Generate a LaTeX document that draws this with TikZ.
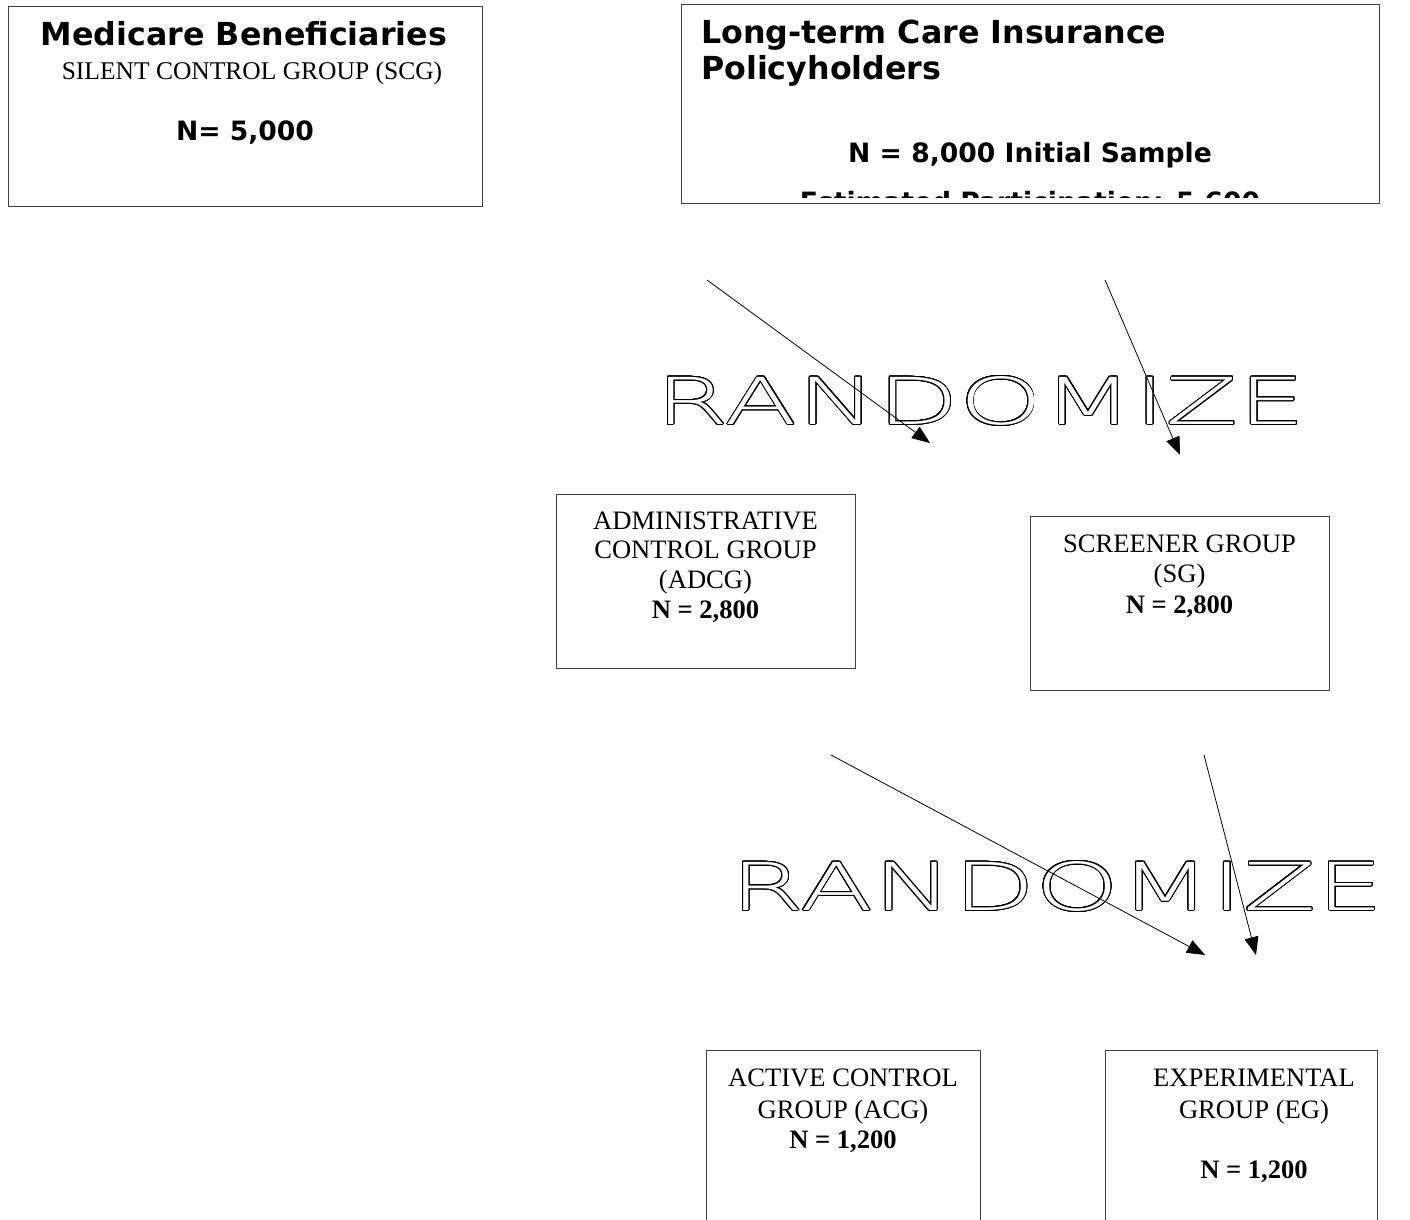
\documentclass[tikz,border=0pt]{standalone}
\usepackage{fontspec}
\setmainfont{Liberation Serif}
\newfontfamily\djv{DejaVu Sans}
\IfFontExistsTF{DejaVu Sans ExtraLight}
  {\newfontfamily\rndf{DejaVu Sans ExtraLight}}
  {\IfFontExistsTF{Fira Sans Light}
    {\newfontfamily\rndf{Fira Sans Light}}
    {\newfontfamily\rndf{DejaVu Sans}}}
\usepackage[copies]{contour}
\contourlength{0.9pt}
\contournumber{32}
\usetikzlibrary{arrows.meta}
\begin{document}
\begin{tikzpicture}[x=1pt,y=-1pt,
  box/.style={draw=black!75, line width=1pt, inner sep=0pt},
  ser/.style={font=\fontsize{26.6}{30}\selectfont, anchor=base, inner sep=0pt},
  serb/.style={font=\fontsize{26.6}{30}\selectfont\bfseries, anchor=base, inner sep=0pt},
  san/.style={font=\djv\fontsize{26.6}{32}\selectfont\bfseries, anchor=base, inner sep=0pt},
  sanbig/.style={font=\djv\fontsize{31.7}{36}\selectfont\bfseries, anchor=base, inner sep=0pt},
  arr/.style={line width=0.8pt, -{Triangle[length=18pt,width=14pt]}},
  rnd/.style={inner sep=0pt, anchor=north west}]
\fill[white] (0,0) rectangle (1410,1220);
\useasboundingbox (0,0) rectangle (1410,1220);
\clip (0,0) rectangle (1410,1220);

% Medicare box
\node[box, minimum width=474pt, minimum height=199pt] (scg) at (245,106.5) {};
\node[sanbig] (scg1) at (244,46) {Medicare Beneficiaries};
\node[ser, font=\fontsize{25.5}{30}\selectfont] (scg2) at (252,80) {SILENT CONTROL GROUP (SCG)};
\node[san] (scg3) at (245,140) {N= 5,000};

% LTC box
\node[box, minimum width=698pt, minimum height=198pt] (ltc) at (1030,104) {};
\begin{scope}
\clip (682,6) rectangle (1378,197);
\node[sanbig, anchor=base west] (ltc1) at (701,44) {Long-term Care Insurance};
\node[sanbig, anchor=base west] (ltc2) at (701,80) {Policyholders};
\node[san] (ltc3) at (1030,162) {N = 8,000 Initial Sample};
\node[san] (ltc4) at (1030,211) {Estimated Participation: 5,600};
\end{scope}

% Randomize 1
\node[rnd] (rnd1) at (655,376) {\color{white}\contour{black}{\resizebox{650pt}{48pt}{\rndf RANDOMIZE}}};
\coordinate (a1s) at (707,280);
\coordinate (a1e) at (930,443);
\coordinate (a2s) at (1105,280);
\coordinate (a2e) at (1180,455);
\draw[arr] (a1s) -- (a1e);
\draw[arr] (a2s) -- (a2e);

% ADCG
\node[box, minimum width=299pt, minimum height=174pt] (adcg) at (705.5,581) {};
\node[ser] (adcg1) at (705.5,529) {ADMINISTRATIVE};
\node[ser] (adcg2) at (705.5,558) {CONTROL GROUP};
\node[ser] (adcg3) at (705.5,588) {(ADCG)};
\node[serb] (adcg4) at (705.5,618) {N = 2,800};

% SG
\node[box, minimum width=299pt, minimum height=174pt] (sg) at (1179.5,603) {};
\node[ser] (sg1) at (1179.5,552) {SCREENER GROUP};
\node[ser] (sg2) at (1179.5,582) {(SG)};
\node[serb] (sg3) at (1179.5,613) {N = 2,800};

% Randomize 2
\node[rnd] (rnd2) at (730,861) {\color{white}\contour{black}{\resizebox{653pt}{49pt}{\rndf RANDOMIZE}}};
\coordinate (a3s) at (831,755);
\coordinate (a3e) at (1205,955);
\coordinate (a4s) at (1204,755);
\coordinate (a4e) at (1256,955);
\draw[arr] (a3s) -- (a3e);
\draw[arr] (a4s) -- (a4e);

% ACG
\node[box, minimum width=274pt, minimum height=220pt] (acg) at (843,1160) {};
\node[ser] (acg1) at (843,1086) {ACTIVE CONTROL};
\node[ser] (acg2) at (843,1118) {GROUP (ACG)};
\node[serb] (acg3) at (843,1148) {N = 1,200};

% EG
\node[box, minimum width=272pt, minimum height=220pt] (eg) at (1241,1160) {};
\node[ser] (eg1) at (1254,1086) {EXPERIMENTAL};
\node[ser] (eg2) at (1254,1118) {GROUP (EG)};
\node[serb] (eg3) at (1254,1178) {N = 1,200};
\end{tikzpicture}
\end{document}
